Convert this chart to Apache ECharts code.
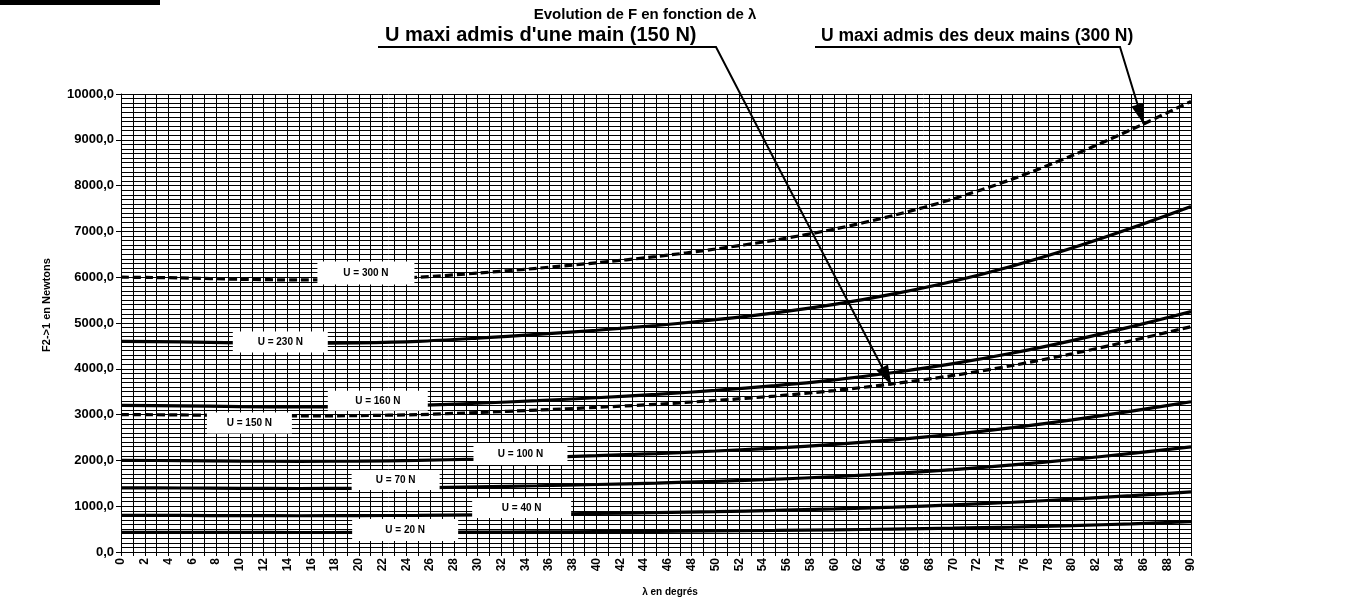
<!DOCTYPE html>
<html>
<head>
<meta charset="utf-8">
<script src="https://cdn.jsdelivr.net/npm/echarts@6/dist/echarts.min.js"></script>
<style>
html,body{margin:0;padding:0;background:#fff;}
#chart{width:1358px;height:606px;}
</style>
</head>
<body>
<div id="chart"></div>
<script>
// ---- data ----
const lambdas = [0,5,10,15,20,25,30,35,40,45,50,55,60,65,70,75,80,85,90];
const u20  = [430,429,427,426,427,430,434,439,445,452,460,470,483,500,520,545,576,615,660];
const u40  = [800,798,794,792,794,800,812,826,842,860,882,908,940,980,1028,1086,1154,1230,1312];
const u70  = [1400,1397,1390,1386,1390,1400,1421,1446,1474,1505,1544,1589,1645,1715,1799,1901,2020,2153,2296];
const u100 = [2000,1995,1985,1980,1985,2000,2030,2065,2105,2150,2205,2270,2350,2450,2570,2715,2885,3075,3280];
const u150 = [3000,2993,2978,2970,2978,3000,3045,3098,3158,3225,3308,3405,3525,3675,3855,4073,4328,4613,4920];
const u160 = [3200,3192,3176,3168,3176,3200,3248,3304,3368,3440,3528,3632,3760,3920,4112,4344,4616,4920,5248];
const u230 = [4600,4589,4566,4554,4566,4600,4669,4750,4842,4945,5072,5221,5405,5635,5911,6245,6636,7073,7544];
const u300 = [6000,5985,5955,5940,5955,6000,6090,6195,6315,6450,6615,6810,7050,7350,7710,8145,8655,9225,9840];
const xTickValues = [0,2,4,6,8,10,12,14,16,18,20,22,24,26,28,30,32,34,36,38,40,42,44,46,48,50,52,54,56,58,60,62,64,66,68,70,72,74,76,78,80,82,84,86,88,90];
const yTickValues = [0,1000,2000,3000,4000,5000,6000,7000,8000,9000,10000];

const seriesDefs = [
  {name:'U = 20 N',  values:u20,  dashed:false},
  {name:'U = 40 N',  values:u40,  dashed:false},
  {name:'U = 70 N',  values:u70,  dashed:false},
  {name:'U = 100 N', values:u100, dashed:false},
  {name:'U = 150 N', values:u150, dashed:true},
  {name:'U = 160 N', values:u160, dashed:false},
  {name:'U = 230 N', values:u230, dashed:false},
  {name:'U = 300 N', values:u300, dashed:true}
];

// label boxes: centre in data space, size in px
const boxes = [
  {text:'U = 300 N', at:[20.6, 6090], w:97, h:23},
  {text:'U = 230 N', at:[13.4, 4585], w:95, h:21},
  {text:'U = 160 N', at:[21.6, 3300], w:100, h:20},
  {text:'U = 150 N', at:[10.8, 2815], w:85, h:21},
  {text:'U = 100 N', at:[33.6, 2140], w:94, h:22},
  {text:'U = 70 N',  at:[23.1, 1570], w:88, h:20},
  {text:'U = 40 N',  at:[33.7, 960],  w:99, h:20},
  {text:'U = 20 N',  at:[23.9, 480],  w:106, h:22}
];

const FONT = "'Liberation Sans', Arial, sans-serif";
const chart = echarts.init(document.getElementById('chart'), null, {renderer:'canvas'});

const series = seriesDefs.map(d => ({
  name: d.name,
  type: 'line',
  data: lambdas.map((l,i)=>[l, d.values[i]]),
  symbol: 'none',
  smooth: 0.3,
  lineStyle: {color:'#000', width:3.2, type: d.dashed ? [8,4] : 'solid'},
  z: 3,
  silent: true
}));

chart.setOption({
  animation:false,
  backgroundColor:'#fff',
  grid:{left:121, right:167, top:94, bottom:54, containLabel:false},
  xAxis:{
    type:'value', min:0, max:90, interval:2,
    axisLine:{show:true, lineStyle:{color:'#000', width:1}},
    axisTick:{show:true, length:4, lineStyle:{color:'#000'}},
    minorTick:{show:true, splitNumber:2, length:4, lineStyle:{color:'#000'}},
    axisLabel:{rotate:90, fontFamily:FONT, fontWeight:'bold', fontSize:12, color:'#000', margin:6},
    splitLine:{show:true, lineStyle:{color:'#000', width:1}},
    minorSplitLine:{show:true, lineStyle:{color:'#000', width:1}}
  },
  yAxis:{
    type:'value', min:0, max:10000, interval:1000,
    axisLine:{show:true, lineStyle:{color:'#000', width:1}},
    axisTick:{show:true, length:5, lineStyle:{color:'#000'}},
    axisLabel:{fontFamily:FONT, fontWeight:'bold', fontSize:13, color:'#000', margin:7,
      formatter: v => v.toFixed(1).replace('.', ',')},
    splitLine:{show:true, lineStyle:{color:'#000', width:1}},
    minorSplitLine:{show:true, lineStyle:{color:'#000', width:1}},
    minorTick:{show:false, splitNumber:10}
  },
  series: series
});

// ---- title, annotations with arrows ----
const annots = [
  {text:"U maxi admis d'une main (150 N)", size:20, x:385, baseY:45, lineFrom:378, lineTo:716, tip:[64.8, 3640]},
  {text:"U maxi admis des deux mains (300 N)", size:17.5, x:821, baseY:45, lineFrom:815, lineTo:1120, tip:[86, 9350]}
];
function arrowHead(tx, ty, fx, fy, len, half){
  const a = Math.atan2(ty-fy, tx-fx);
  const bx = tx - len*Math.cos(a), by = ty - len*Math.sin(a);
  return [[tx,ty],[bx + half*Math.sin(a), by - half*Math.cos(a)],[bx - half*Math.sin(a), by + half*Math.cos(a)]];
}
const g = [];
g.push({type:'rect', shape:{x:0,y:0,width:160,height:5}, style:{fill:'#000'}});
g.push({type:'text', x:645, y:15,
  style:{text:'Evolution de F en fonction de λ', fill:'#000', font:"bold 15px "+FONT, textAlign:'center', textVerticalAlign:'middle'}});
// axis names
g.push({type:'text', x:47, y:305, rotation:Math.PI/2,
  style:{text:'F2->1 en Newtons', fill:'#000', font:"bold 11px "+FONT, textAlign:'center', textVerticalAlign:'middle'}});
g.push({type:'text', x:670, y:592,
  style:{text:'λ en degrés', fill:'#000', font:"bold 10px "+FONT, textAlign:'center', textVerticalAlign:'middle'}});
boxes.forEach(b => {
  const c = chart.convertToPixel({gridIndex:0}, b.at);
  g.push({type:'rect', shape:{x:c[0]-b.w/2, y:c[1]-b.h/2, width:b.w, height:b.h}, style:{fill:'#fff'}, z:30});
  g.push({type:'text', x:c[0], y:c[1], style:{text:b.text, fill:'#000', font:"bold 10px "+FONT, textAlign:'center', textVerticalAlign:'middle'}, z:31});
});
annots.forEach(a => {
  const tip = chart.convertToPixel({gridIndex:0}, a.tip);
  const ly = 47;
  g.push({type:'text', x:a.x, y:a.baseY, style:{text:a.text, fill:'#000', font:"bold "+a.size+"px "+FONT, textVerticalAlign:'bottom'}, z:20});
  g.push({type:'polyline', shape:{points:[[a.lineFrom, ly],[a.lineTo, ly],[tip[0], tip[1]]]}, style:{stroke:'#000', lineWidth:2, fill:null}, z:40});
  g.push({type:'polygon', shape:{points:arrowHead(tip[0], tip[1], a.lineTo, ly, 20, 6.5)}, style:{fill:'#000'}, z:41});
});
chart.setOption({graphic:g});
</script>
</body>
</html>
